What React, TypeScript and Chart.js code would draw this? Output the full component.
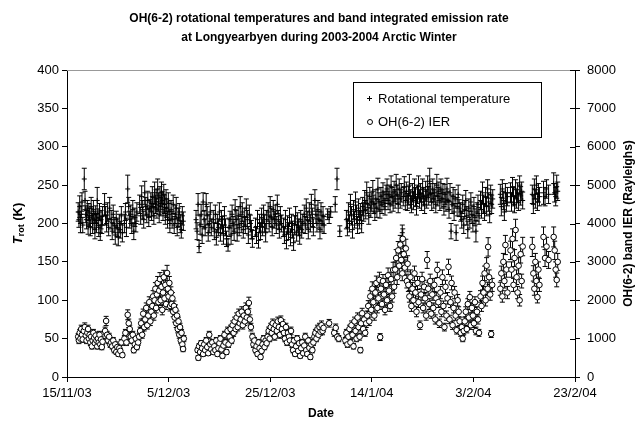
import React, { useEffect, useRef } from "react";
import { Chart, registerables } from "chart.js";
Chart.register(...registerables);

// x axis: days since 15/11/2003
const xTickDays = [0, 20, 40, 60, 80, 100];
const xTickLabels = ["15/11/03", "5/12/03", "25/12/03", "14/1/04", "3/2/04", "23/2/04"];

const titleLines = [
  "OH(6-2) rotational temperatures and band integrated emission rate",
  "at Longyearbyen during 2003-2004 Arctic Winter",
];

// Rotational temperature: [day, K, error K]
const rotTemp: [number, number, number][] = [
  [2.2,215,12],[2.35,205,10],[2.5,222,14],[2.65,200,12],[2.8,212,11],[2.95,228,12],[3.1,198,10],
  [3.4,258,14],[3.55,230,12],[3.7,212,11],[3.85,205,12],[4.0,220,10],[4.15,198,12],[4.3,215,11],[4.45,208,12],[4.6,195,11],[4.75,222,12],[4.9,210,10],[5.05,200,13],[5.2,218,12],[5.35,205,11],[5.5,192,12],[5.65,212,11],[5.8,200,12],[5.95,230,17],[6.1,208,11],[6.25,195,12],[6.4,215,11],[6.55,188,10],[6.7,205,12],[6.85,198,11],[7.0,210,12],
  [7.4,225,14],[7.6,210,12],[7.8,200,11],[8.0,215,12],[8.2,195,11],[8.4,220,14],
  [8.7,205,12],[8.9,190,11],[9.1,212,12],[9.3,198,10],[9.5,185,12],[9.7,205,11],[9.9,195,12],[10.1,182,11],[10.3,200,12],[10.5,192,11],[10.7,210,12],[10.9,188,12],
  [11.3,200,12],[11.5,215,11],[11.7,195,12],[11.95,245,18],[12.15,222,12],[12.35,205,11],[12.55,212,12],[12.75,198,11],[12.95,218,12],[13.15,190,11],[13.35,208,12],[13.55,200,11],[13.75,215,12],
  [14.3,225,12],[14.5,210,11],[14.7,235,14],[14.9,218,12],[15.1,205,11],[15.3,240,15],[15.5,222,12],[15.7,212,11],[15.9,230,12],[16.1,208,12],[16.3,220,11],
  [16.5,228,12],[16.65,215,11],[16.8,235,13],[16.95,222,12],[17.1,210,11],[17.25,240,14],[17.4,225,12],[17.55,232,12],[17.7,218,11],[17.85,245,13],[18.0,228,12],[18.15,212,11],[18.3,236,12],[18.45,222,12],[18.6,240,14],[18.75,230,12],[18.9,215,11],[19.05,238,13],[19.2,225,12],[19.35,210,11],[19.5,232,12],[19.65,220,12],[19.8,205,11],[19.95,228,12],[20.1,215,11],[20.25,200,12],
  [20.5,218,12],[20.7,205,11],[20.9,225,12],[21.1,198,11],[21.3,212,12],[21.5,220,14],[21.7,195,11],[21.9,208,12],[22.1,215,11],[22.3,200,12],[22.5,192,11],[22.7,210,12],[22.9,203,12],
  [25.4,205,12],[25.6,190,11],[25.8,225,14],[26.0,170,8],[26.2,198,12],[26.4,212,13],[26.6,185,11],[26.8,228,12],[27.0,205,12],[27.2,195,11],[27.4,225,14],[27.6,210,12],[27.8,188,11],[28.0,200,12],[28.2,215,12],[28.4,195,11],
  [28.8,205,12],[29.0,190,11],[29.2,212,12],[29.4,182,10],[29.6,200,12],[29.8,195,11],[30.0,215,12],[30.2,188,11],[30.4,205,12],[30.6,198,11],[30.8,185,12],[31.0,210,12],[31.2,195,11],[31.4,180,10],
  [31.7,172,8],[31.9,195,12],[32.1,205,11],[32.3,185,12],[32.5,212,12],[32.7,198,11],[32.9,190,12],[33.1,218,13],[33.3,205,12],[33.5,188,11],[33.7,210,12],[33.9,195,11],[34.1,222,13],[34.3,200,12],[34.5,215,12],[34.7,192,11],[34.9,208,12],[35.1,198,11],[35.3,220,12],[35.5,205,12],[35.7,185,11],[35.9,212,12],[36.1,200,11],[36.3,192,12],[36.5,180,11],
  [37.1,195,12],[37.3,185,11],[37.5,205,12],[37.7,178,10],[37.9,200,12],[38.1,190,11],[38.3,208,12],[38.5,195,11],[38.7,212,12],[38.9,200,11],[39.1,188,12],[39.3,205,12],
  [39.6,215,12],[39.8,200,11],[40.0,222,13],[40.2,208,12],[40.4,195,11],[40.6,218,12],[40.8,205,11],[41.0,212,12],[41.2,198,11],[41.4,225,12],[41.6,205,12],[41.8,192,11],[42.0,210,12],[42.2,200,11],
  [42.6,195,12],[42.8,185,11],[43.0,205,12],[43.2,178,11],[43.4,198,12],[43.6,190,11],[43.8,208,12],[44.0,182,11],[44.2,200,12],[44.4,192,11],[44.6,175,10],[44.8,198,12],[45.0,210,12],[45.2,188,11],[45.4,202,12],[45.6,195,11],[45.8,185,12],[46.0,205,12],[46.2,192,11],[46.4,200,12],
  [46.7,212,12],[46.9,198,11],[47.1,220,12],[47.3,205,11],[47.5,192,12],[47.7,215,12],[47.9,200,11],[48.1,225,13],[48.3,208,12],[48.5,195,11],[48.8,230,14],[49.0,212,12],[49.2,200,11],[49.4,218,12],[49.6,205,11],[49.8,192,12],[50.0,215,12],[50.2,200,11],[50.4,210,12],[50.6,198,11],[51.3,212,7],[51.6,208,8],[51.9,215,7],
  [52.8,225,10],[53.15,258,14],[53.7,190,7],
  [55.0,205,12],[55.2,195,11],[55.4,215,12],[55.6,200,11],[55.8,225,13],[56.0,210,12],[56.2,192,11],[56.4,218,12],[56.6,205,11],[56.8,228,13],[57.0,212,12],[57.2,198,11],[57.4,220,12],[57.6,205,12],[57.8,215,11],[58.0,200,12],[58.2,222,12],
  [58.4,215,12],[58.6,230,13],[58.8,218,12],[59.0,240,14],[59.2,225,12],[59.4,210,11],[59.6,235,12],[59.8,220,12],[60.0,228,12],[60.2,242,14],[60.4,225,12],[60.6,215,11],[60.8,232,12],[61.0,220,12],[61.2,245,14],[61.4,228,12],[61.6,218,11],[61.8,235,12],[62.0,225,12],[62.2,240,13],[62.4,230,12],[62.6,222,11],[62.8,238,12],
  [63.0,245,13],[63.2,230,12],[63.4,238,12],[63.6,225,11],[63.8,248,14],[64.0,235,12],[64.2,228,12],[64.4,242,13],[64.6,232,12],[64.8,250,14],[65.0,238,12],[65.2,225,11],[65.4,245,13],[65.6,232,12],[65.8,240,12],[66.0,188,10],[66.2,235,12],[66.4,248,13],[66.6,230,12],[66.8,242,12],[67.0,228,11],[67.2,236,12],[67.4,250,14],[67.6,232,12],[67.8,225,11],[68.0,240,12],[68.2,230,12],[68.4,245,13],[68.6,235,12],[68.8,222,11],[69.0,238,12],[69.2,248,14],[69.4,232,12],[69.6,240,12],[69.8,228,11],[70.0,245,13],[70.2,235,12],[70.4,225,12],[70.6,242,13],[70.8,232,12],[71.0,248,14],[71.2,236,12],[71.4,255,17],[71.6,240,12],[71.8,228,11],[72.0,245,13],[72.2,232,12],[72.4,240,12],[72.6,225,11],[72.8,250,14],[73.0,235,12],[73.2,242,12],[73.4,228,11],[73.6,245,13],[73.8,232,12],[74.0,240,12],[74.2,222,11],[74.4,238,13],[74.6,228,12],[74.8,245,14],[75.0,230,12],[75.2,218,11],[75.4,240,12],[75.6,190,10],[75.8,225,12],[76.0,235,12],[76.2,215,11],[76.4,232,12],[76.6,188,10],[76.8,222,12],[77.0,238,12],[77.2,220,11],
  [77.5,215,12],[77.7,205,11],[77.9,225,12],[78.1,198,11],[78.3,218,12],[78.5,230,13],[78.7,210,12],[78.9,192,11],[79.1,220,12],[79.3,205,11],[79.5,228,12],[79.7,212,12],[79.9,200,11],[80.1,222,12],[80.3,208,11],[80.5,190,14],[80.7,215,12],[80.9,225,12],[81.1,210,11],
  [81.4,230,12],[81.6,218,11],[81.8,240,14],[82.0,225,12],[82.2,215,11],[82.4,235,12],[82.6,222,12],[82.8,245,12],[83.0,228,12],[83.2,212,11],[83.4,238,12],[83.6,225,12],[83.8,232,12],
  [85.3,238,13],[85.5,222,12],[85.7,245,12],[85.9,230,12],[86.1,215,11],[86.3,240,12],[86.5,228,12],[86.7,235,12],
  [87.3,240,13],[87.5,228,12],[87.7,248,12],[87.9,235,12],[88.1,225,11],[88.3,245,12],[88.5,232,12],[88.7,240,13],[88.9,228,11],[89.1,250,12],[89.3,236,12],[89.5,242,12],[89.7,230,11],
  [91.6,238,12],[91.8,225,12],[92.0,245,13],[92.2,232,12],[92.4,250,12],[92.6,228,11],[92.8,240,12],[93.0,235,12],
  [93.8,240,15],[94.1,235,12],[94.4,245,12],[94.8,238,12],
  [95.8,252,14],[96.0,240,12],[96.2,235,12],[96.4,248,15],[96.6,242,12],
];

// OH(6-2) band integrated emission rate: [day, Rayleighs, error R]
const ohIER: [number, number, number][] = [
  [2.2,1050,80],[2.35,950,80],[2.5,1150,90],[2.65,1000,80],[2.8,1250,100],[2.95,1100,90],[3.1,980,80],[3.3,1200,90],[3.5,1300,110],[3.7,1080,90],[3.85,950,80],[4.0,1150,90],[4.15,1250,100],[4.3,1000,80],[4.45,1100,90],[4.6,900,80],[4.75,1050,80],[4.9,800,70],[5.05,950,80],[5.2,1150,90],[5.35,1020,80],[5.5,880,70],[5.65,1080,90],[5.8,950,80],[5.95,800,70],[6.1,1000,80],[6.25,900,80],[6.4,1100,90],[6.55,850,70],[6.7,980,80],[6.85,780,70],[7.0,920,80],
  [7.5,1200,100],[7.7,1460,120],[7.9,1100,90],[8.1,950,80],[8.3,1050,90],[8.5,850,80],
  [8.7,900,80],[8.9,800,70],[9.1,950,80],[9.3,700,70],[9.5,850,70],[9.7,650,60],[9.9,780,70],[10.1,600,60],[10.3,750,70],[10.5,680,60],[10.7,900,80],[10.9,570,60],
  [11.3,1000,80],[11.5,1150,90],[11.7,900,80],[11.95,1620,130],[12.15,1400,110],[12.35,1250,100],[12.55,1050,90],[12.75,950,80],[12.95,1100,90],[13.15,700,70],[13.35,850,80],[13.55,1000,80],[13.75,780,70],[14.0,900,80],[14.2,1050,90],
  [14.4,1200,100],[14.6,1400,110],[14.8,1100,90],[15.0,1650,120],[15.2,1300,100],[15.4,1500,110],[15.6,1800,130],[15.8,1350,100],[16.0,1600,120],[16.2,1950,140],[16.4,1450,110],[16.6,1700,120],
  [16.8,1850,130],[16.95,2100,150],[17.1,1600,120],[17.25,2000,140],[17.4,2300,160],[17.55,1800,130],[17.7,2150,150],[17.85,2450,170],[18.0,1950,140],[18.15,2250,160],[18.3,2550,170],[18.45,2000,140],[18.6,2350,160],[18.75,1750,130],[18.9,2200,150],[19.05,2600,180],[19.2,2050,150],[19.35,2400,160],[19.5,1900,140],[19.7,2710,200],[19.85,2300,160],[20.0,2100,150],[20.15,2450,170],[20.3,1850,130],
  [20.45,2200,150],[20.6,1900,140],[20.75,2050,150],[20.9,1700,130],[21.05,1850,130],[21.2,1550,120],[21.35,1750,130],[21.5,1400,110],[21.65,1600,120],[21.8,1250,100],[21.95,1450,110],[22.1,1100,90],[22.25,1300,100],[22.4,950,80],[22.55,1150,90],[22.7,850,80],[22.85,730,70],[23.0,1000,80],
  [25.7,700,60],[25.85,500,60],[26.0,800,70],[26.2,650,60],[26.4,880,70],[26.6,750,70],[26.8,600,60],[27.0,850,70],[27.2,700,70],[27.4,950,80],[27.6,780,70],[27.8,620,60],[28.0,1100,90],[28.2,850,70],[28.4,720,70],[28.6,900,80],
  [28.8,650,60],[29.0,800,70],[29.2,700,60],[29.4,950,80],[29.6,600,60],[29.8,750,70],[30.0,880,70],[30.2,1000,80],[30.4,720,70],[30.6,550,60],[30.8,820,70],[31.0,1100,90],[31.2,900,80],[31.4,650,60],[31.6,1200,100],[31.8,850,80],
  [32.0,1050,90],[32.2,1250,100],[32.4,950,80],[32.6,1350,110],[32.8,1150,90],[33.0,1450,110],[33.2,1250,100],[33.4,1550,120],[33.6,1300,100],[33.8,1650,120],[34.0,1400,110],[34.2,1500,110],[34.4,1700,130],[34.6,1350,100],[34.8,1600,120],[35.0,1450,110],[35.2,1800,130],[35.4,1550,120],[35.6,1700,130],[35.8,1930,150],[36.0,1500,120],[36.2,1300,100],
  [36.5,1050,90],[36.7,850,80],[36.9,950,80],[37.1,700,70],[37.3,800,70],[37.5,600,60],[37.7,900,80],[37.9,750,70],[38.1,520,60],[38.3,680,60],[38.5,850,70],[38.7,1000,80],[38.9,780,70],[39.1,950,80],[39.3,880,70],
  [39.5,1050,90],[39.7,1200,100],[39.9,1000,80],[40.1,1300,100],[40.3,1150,90],[40.5,1400,110],[40.7,1250,100],[40.9,1050,90],[41.1,1350,100],[41.3,1200,100],[41.5,1450,110],[41.7,1300,100],[41.9,1100,90],[42.1,1480,110],[42.3,1250,100],[42.5,1380,110],[42.7,1150,90],[42.9,1000,80],[43.1,1300,100],[43.3,900,80],[43.5,1150,90],[43.7,1050,90],[43.9,950,80],[44.1,1200,100],
  [44.3,850,80],[44.5,700,70],[44.7,950,80],[44.9,600,60],[45.1,800,70],[45.3,1000,80],[45.5,680,60],[45.7,880,70],[45.9,550,60],[46.1,750,70],[46.3,900,80],[46.5,620,60],[46.7,820,70],[46.9,1050,90],[47.1,700,70],[47.3,600,60],[47.5,950,80],[47.7,760,70],[47.9,520,60],[48.1,850,70],[48.3,700,70],
  [48.5,900,80],[48.7,1050,90],[48.9,1150,90],[49.1,1000,80],[49.3,1250,100],[49.5,1100,90],[49.7,1300,100],[49.9,1180,90],[50.1,1350,110],[50.3,1200,100],[50.5,1280,100],[51.6,1400,100],
  [52.6,1150,90],[52.9,1280,100],[53.2,1050,80],[53.5,1000,80],
  [54.8,950,80],[55.0,1150,90],[55.2,850,80],[55.4,1050,90],[55.6,1250,100],[55.8,900,80],[56.0,1350,110],[56.2,1100,90],[56.4,800,70],[56.6,1450,110],[56.8,1200,100],[57.0,1000,80],[57.2,1550,120],[57.4,1300,100],[57.6,1050,90],[57.75,700,70],[57.9,1400,110],[58.1,1660,130],[58.3,1250,100],[58.5,1500,120],[58.7,1150,90],[58.9,1400,110],
  [59.1,1600,120],[59.3,1850,140],[59.5,1450,110],[59.7,2100,150],[59.9,1750,130],[60.1,2300,180],[60.3,1950,140],[60.5,1600,120],[60.7,2200,160],[60.9,2450,180],[61.1,1800,130],[61.3,2050,150],[61.5,2530,200],[61.65,1040,90],
  [61.8,2300,160],[62.0,1900,140],[62.2,2500,170],[62.4,2150,150],[62.6,1750,130],[62.8,2400,170],[63.0,2000,150],[63.2,2650,190],[63.4,2250,160],[63.6,1850,140],[63.8,2550,180],[64.0,2100,150],[64.2,2790,200],[64.4,2350,170],
  [64.6,2800,200],[64.8,3100,220],[65.0,2600,190],[65.2,3300,230],[65.4,2900,210],[65.6,3450,240],[65.8,3050,220],[66.0,2700,190],[66.1,3600,260],[66.3,3200,230],[66.5,2850,200],[66.7,3350,240],[66.9,2500,180],[67.05,2950,210],
  [67.2,2400,170],[67.4,2100,150],[67.6,2600,190],[67.8,1850,140],[68.0,2300,160],[68.2,2000,150],[68.4,2700,190],[68.6,2200,160],[68.8,1700,130],[69.0,2450,170],[69.2,1950,140],[69.5,1350,110],[69.7,2150,150],[69.9,2550,180],[70.1,1800,130],[70.3,2350,170],[70.5,2050,150],[70.7,1600,120],[70.9,3050,220],
  [71.1,2300,170],[71.3,1900,140],[71.5,2500,180],[71.7,1650,120],[71.9,2150,150],[72.1,1800,130],[72.3,2400,170],[72.5,1500,120],[72.7,2050,150],[72.9,2790,200],[73.1,1950,140],[73.3,1400,110],[73.5,2200,160],[73.7,1700,130],[73.9,2600,190],[74.1,1850,130],[74.3,1300,100],[74.5,2350,170],[74.7,1600,120],[74.9,2050,150],[75.1,2870,200],[75.3,1500,110],[75.5,1950,140],[75.7,2450,180],[75.9,1350,110],[76.1,1800,130],[76.3,2200,160],[76.5,1600,120],[76.7,1220,100],[76.9,2000,150],[77.1,1700,130],[77.3,1450,110],
  [77.5,1150,90],[77.7,1300,100],[77.9,1000,80],[78.1,1200,100],[78.3,1450,110],[78.5,1700,130],[78.7,1250,100],[78.9,1900,140],[79.1,1550,120],[79.3,2080,150],[79.5,1350,110],[79.7,1800,130],[79.9,1600,120],[80.1,1400,110],[80.3,1950,140],[80.5,1200,100],[80.7,1700,130],[80.9,1500,120],[81.1,1150,90],
  [81.4,2100,150],[81.6,1850,140],[81.8,2450,180],[82.0,2200,160],[82.2,2700,190],[82.4,2000,150],[82.6,2900,210],[82.8,2300,170],[82.9,3390,240],[83.1,2600,190],[83.3,2150,150],[83.5,1120,90],[83.7,2400,170],
  [85.3,2300,170],[85.5,2700,190],[85.7,2100,150],[85.9,3000,220],[86.1,2500,180],[86.3,3440,250],[86.5,2800,200],[86.7,2200,160],
  [87.3,3300,240],[87.5,2800,200],[87.7,3600,260],[87.9,2400,170],[88.1,3100,220],[88.3,3830,280],[88.5,2600,190],[88.7,2200,160],[88.9,2900,210],[89.1,2000,150],[89.3,3200,230],[89.5,2500,180],[89.7,3400,240],
  [91.6,3390,250],[91.8,2700,200],[92.0,2300,170],[92.2,3000,220],[92.4,2500,180],[92.6,2080,150],[92.8,2800,200],[93.0,2400,170],
  [93.8,3650,260],[94.1,3100,220],[94.4,3400,240],[94.8,3050,220],
  [95.8,3650,260],[96.0,3300,240],[96.2,2800,200],[96.4,2530,180],[96.6,3000,220],
];

const FONT = "Arial, 'Liberation Sans', sans-serif";
const errorsByDataset = [rotTemp.map((d) => d[2]), ohIER.map((d) => d[2])];

const errorBarPlugin = {
  id: "errorBars",
  beforeDatasetsDraw(chart: any) {
    const ctx = chart.ctx;
    chart.data.datasets.forEach((ds: any, di: number) => {
      const meta = chart.getDatasetMeta(di);
      const ys = chart.scales[ds.yAxisID];
      const errs = errorsByDataset[di];
      ctx.save();
      ctx.strokeStyle = "#000";
      ctx.lineWidth = 1;
      ctx.beginPath();
      meta.data.forEach((pt: any, i: number) => {
        const v = ds.data[i].y;
        const e = errs[i];
        const yTop = ys.getPixelForValue(v + e);
        const yBot = ys.getPixelForValue(v - e);
        const x = pt.x;
        ctx.moveTo(x, yTop);
        ctx.lineTo(x, yBot);
        ctx.moveTo(x - 2.5, yTop);
        ctx.lineTo(x + 2.5, yTop);
        ctx.moveTo(x - 2.5, yBot);
        ctx.lineTo(x + 2.5, yBot);
      });
      ctx.stroke();
      ctx.restore();
    });
  },
};

const decorPlugin = {
  id: "decor",
  afterDraw(chart: any) {
    const ctx = chart.ctx;
    const a = chart.chartArea;
    ctx.save();
    // top border of plot area (grey)
    ctx.strokeStyle = "#999";
    ctx.lineWidth = 1;
    ctx.beginPath();
    ctx.moveTo(a.left, a.top + 0.5);
    ctx.lineTo(a.right, a.top + 0.5);
    ctx.stroke();
    // inward part of right axis ticks
    const y1 = chart.scales.y1;
    ctx.strokeStyle = "#000";
    ctx.beginPath();
    y1.ticks.forEach((t: any) => {
      const py = Math.round(y1.getPixelForValue(t.value)) + 0.5;
      ctx.moveTo(a.right - 5, py);
      ctx.lineTo(a.right, py);
    });
    ctx.stroke();

    // title
    ctx.fillStyle = "#000";
    ctx.textAlign = "center";
    ctx.textBaseline = "middle";
    ctx.font = `bold 12px ${FONT}`;
    ctx.fillText(titleLines[0], 319, 19);
    ctx.fillText(titleLines[1], 319, 38);

    // x title
    ctx.font = `bold 12px ${FONT}`;
    ctx.fillText("Date", (a.left + a.right) / 2, 414);

    // left y title: T_rot (K)
    const cy = (a.top + a.bottom) / 2;
    ctx.save();
    ctx.translate(18, cy);
    ctx.rotate(-Math.PI / 2);
    ctx.textAlign = "left";
    const fT = `italic bold 13px ${FONT}`;
    const fSub = `bold 9px ${FONT}`;
    const fK = `bold 13px ${FONT}`;
    ctx.font = fT;
    const wT = ctx.measureText("T").width;
    ctx.font = fSub;
    const wS = ctx.measureText("rot").width;
    ctx.font = fK;
    const wK = ctx.measureText(" (K)").width;
    let x0 = -(wT + wS + wK) / 2;
    ctx.font = fT;
    ctx.fillText("T", x0, 0);
    x0 += wT;
    ctx.font = fSub;
    ctx.fillText("rot", x0, 4);
    x0 += wS;
    ctx.font = fK;
    ctx.fillText(" (K)", x0, 0);
    ctx.restore();

    // right y title
    ctx.save();
    ctx.translate(629, cy);
    ctx.rotate(-Math.PI / 2);
    ctx.font = `bold 12px ${FONT}`;
    ctx.textAlign = "center";
    ctx.fillText("OH(6-2) band IER (Rayleighs)", 0, 0);
    ctx.restore();

    // legend box
    const lx = 353, ly = 82, lw = 188, lh = 55;
    ctx.fillStyle = "#fff";
    ctx.fillRect(lx, ly, lw, lh);
    ctx.strokeStyle = "#000";
    ctx.strokeRect(lx + 0.5, ly + 0.5, lw, lh);
    ctx.fillStyle = "#000";
    ctx.font = `13px ${FONT}`;
    ctx.textAlign = "left";
    ctx.textBaseline = "middle";
    const labels = chart.data.datasets.map((d: any) => d.label);
    ctx.beginPath();
    ctx.moveTo(367, 98.5);
    ctx.lineTo(372, 98.5);
    ctx.moveTo(369.5, 96);
    ctx.lineTo(369.5, 101);
    ctx.stroke();
    ctx.fillText(labels[0], 378, 99);
    ctx.beginPath();
    ctx.arc(370, 122, 2.5, 0, Math.PI * 2);
    ctx.fillStyle = "#fff";
    ctx.fill();
    ctx.stroke();
    ctx.fillStyle = "#000";
    ctx.fillText(labels[1], 378, 122);
    ctx.restore();
  },
};

export default function App() {
  const ref = useRef<HTMLCanvasElement>(null);
  useEffect(() => {
    if (!ref.current) return;
    Chart.defaults.font.family = FONT;
    const chart = new Chart(ref.current, {
      type: "scatter",
      data: {
        datasets: [
          {
            label: "Rotational temperature",
            data: rotTemp.map((d) => ({ x: d[0], y: d[1] })),
            yAxisID: "y",
            pointStyle: "cross",
            pointRadius: 2.5,
            pointBorderWidth: 1,
            borderColor: "#000",
            backgroundColor: "#000",
          },
          {
            label: "OH(6-2) IER",
            data: ohIER.map((d) => ({ x: d[0], y: d[1] })),
            yAxisID: "y1",
            pointStyle: "circle",
            pointRadius: 2.8,
            pointBorderWidth: 1,
            borderColor: "#000",
            backgroundColor: "#fff",
          },
        ] as any,
      },
      options: {
        animation: false,
        responsive: false,
        events: [],
        layout: { padding: { top: 70, left: 0, right: 0, bottom: 0 } },
        plugins: { legend: { display: false }, tooltip: { enabled: false }, title: { display: false } },
        scales: {
          x: {
            type: "linear",
            min: 0,
            max: 100,
            afterBuildTicks: (s: any) => {
              s.ticks = xTickDays.map((v) => ({ value: v }));
            },
            ticks: {
              autoSkip: false,
              maxRotation: 0,
              color: "#000",
              padding: 4,
              font: { size: 13, family: FONT },
              callback: (v: any) => xTickLabels[xTickDays.indexOf(Number(v))] ?? "",
            },
            grid: { display: true, drawOnChartArea: false, drawTicks: true, tickLength: 5, color: "#000" },
            border: { display: true, color: "#000", width: 1 },
            afterFit: (s: any) => {
              s.height = 45;
            },
          },
          y: {
            type: "linear",
            position: "left",
            min: 0,
            max: 400,
            ticks: { stepSize: 50, color: "#000", padding: 3, font: { size: 13, family: FONT }, callback: (v: any) => String(v) },
            grid: { display: true, drawOnChartArea: false, drawTicks: true, tickLength: 5, color: "#000" },
            border: { display: true, color: "#000", width: 1 },
            afterFit: (s: any) => {
              s.width = 67;
            },
          },
          y1: {
            type: "linear",
            position: "right",
            min: 0,
            max: 8000,
            ticks: { stepSize: 1000, color: "#000", padding: 7, font: { size: 13, family: FONT }, callback: (v: any) => String(v) },
            grid: { display: true, drawOnChartArea: false, drawTicks: true, tickLength: 5, color: "#000" },
            border: { display: true, color: "#000", width: 1 },
            afterFit: (s: any) => {
              s.width = 62;
            },
          },
        },
      },
      plugins: [errorBarPlugin, decorPlugin],
    } as any);
    return () => chart.destroy();
  }, []);
  return (
    <div style={{ position: "absolute", left: 0, top: 0, width: 637, height: 422, background: "#fff" }}>
      <canvas ref={ref} width={637} height={422} style={{ width: 637, height: 422, display: "block" }} />
    </div>
  );
}
